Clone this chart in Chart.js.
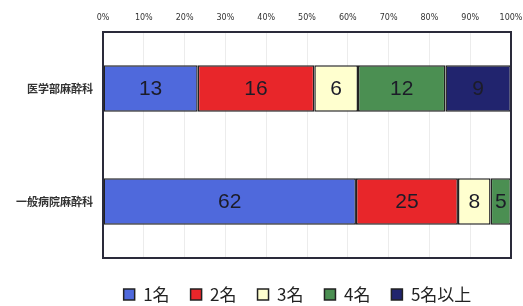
<!DOCTYPE html>
<html>
<head>
<meta charset="utf-8">
<script src="https://cdn.jsdelivr.net/npm/chart.js@4"></script>
<style>
  html, body { margin: 0; padding: 0; background: #fff; }
  #wrap { width: 523px; height: 306px; }
</style>
</head>
<body>
<div id="wrap"><canvas id="myChart" width="523" height="306"></canvas></div>
<script>
const categories = ['医学部麻酔科', '一般病院麻酔科'];
const seriesNames = ['1名', '2名', '3名', '4名', '5名以上'];
// counts per category, one array per series
const count1 = [13, 62];
const count2 = [16, 25];
const count3 = [6, 8];
const count4 = [12, 5];
const count5 = [9, 0];
const tickLabels = ['0%', '10%', '20%', '30%', '40%', '50%', '60%', '70%', '80%', '90%', '100%'];

const colors = ['#4f69dc', '#e8262a', '#ffffcf', '#4b8f52', '#21246e'];
const allCounts = [count1, count2, count3, count4, count5];

const totals = categories.map((c, i) => allCounts.reduce((s, arr) => s + arr[i], 0));

const data = {
    labels: categories,
    datasets: allCounts.map((arr, k) => ({
        label: seriesNames[k],
        counts: arr,
        data: arr.map((v, i) => v / totals[i] * 100),
        backgroundColor: colors[k],
        borderColor: '#222',
        borderWidth: 1.5,
        borderSkipped: false,
        categoryPercentage: 1,
        barPercentage: 0.41
    }))
};

// labels inside the bars (the counts)
const barLabels = {
    id: 'barLabels',
    afterDatasetsDraw(chart) {
        const ctx = chart.ctx;
        ctx.save();
        ctx.font = '21px "Liberation Sans", Arial, sans-serif';
        ctx.textAlign = 'center';
        ctx.textBaseline = 'middle';
        ctx.fillStyle = '#1c1c28';
        chart.data.datasets.forEach((ds, k) => {
            chart.getDatasetMeta(k).data.forEach((bar, i) => {
                const v = ds.counts[i];
                if (!v) return;
                const left = Math.min(bar.x, bar.base);
                const w = Math.abs(bar.x - bar.base);
                let cx = left + w / 2;
                const tw = ctx.measureText(String(v)).width;
                if (tw > w - 4) cx = left + tw / 2 + 2;
                ctx.fillText(String(v), cx, bar.y + 1);
            });
        });
        ctx.restore();
    }
};

// dark frame round the plot
const frame = {
    id: 'frame',
    afterDraw(chart) {
        const a = chart.chartArea;
        const ctx = chart.ctx;
        ctx.save();
        ctx.strokeStyle = '#2a2a3a';
        ctx.lineWidth = 2;
        ctx.strokeRect(a.left, a.top, a.right - a.left, a.bottom - a.top);
        ctx.restore();
    }
};

// move the legend a bit right and down, like the original
const legendShift = {
    id: 'legendShift',
    afterLayout(chart) {
        const lg = chart.legend;
        lg.left += 42; lg.right += 42;
        lg.top += 7; lg.bottom += 7;
    }
};

const config = {
    type: 'bar',
    data: data,
    options: {
        indexAxis: 'y',
        responsive: false,
        animation: false,
        layout: { padding: { left: 0, right: 12, top: 0, bottom: 0 } },
        scales: {
            x: {
                position: 'top',
                stacked: true,
                min: 0,
                max: 100,
                ticks: {
                    stepSize: 10,
                    padding: 9,
                    color: '#333',
                    font: { size: 8, family: '"DejaVu Sans", sans-serif' },
                    callback: (v, i) => tickLabels[i]
                },
                grid: { color: '#ececec', drawTicks: false },
                border: { display: false },
                afterFit(scale) {
                    scale.height = 32;
                    scale.paddingLeft = 0;
                    scale.paddingRight = 0;
                }
            },
            y: {
                stacked: true,
                ticks: {
                    color: '#333',
                    padding: 10,
                    font: { size: 11, weight: 'bold', family: '"Noto Sans CJK JP", sans-serif' }
                },
                grid: { display: false, drawTicks: false },
                border: { display: false },
                afterFit(scale) { scale.width = 103; }
            }
        },
        plugins: {
            legend: {
                position: 'bottom',
                labels: {
                    boxWidth: 11,
                    boxHeight: 11,
                    padding: 21,
                    color: '#222',
                    font: { size: 17, family: '"Noto Sans CJK JP", sans-serif' }
                }
            },
            tooltip: { enabled: false }
        }
    },
    plugins: [barLabels, frame, legendShift]
};

window.onload = function() {
    const ctx = document.getElementById('myChart').getContext('2d');
    new Chart(ctx, config);
};
</script>
</body>
</html>
